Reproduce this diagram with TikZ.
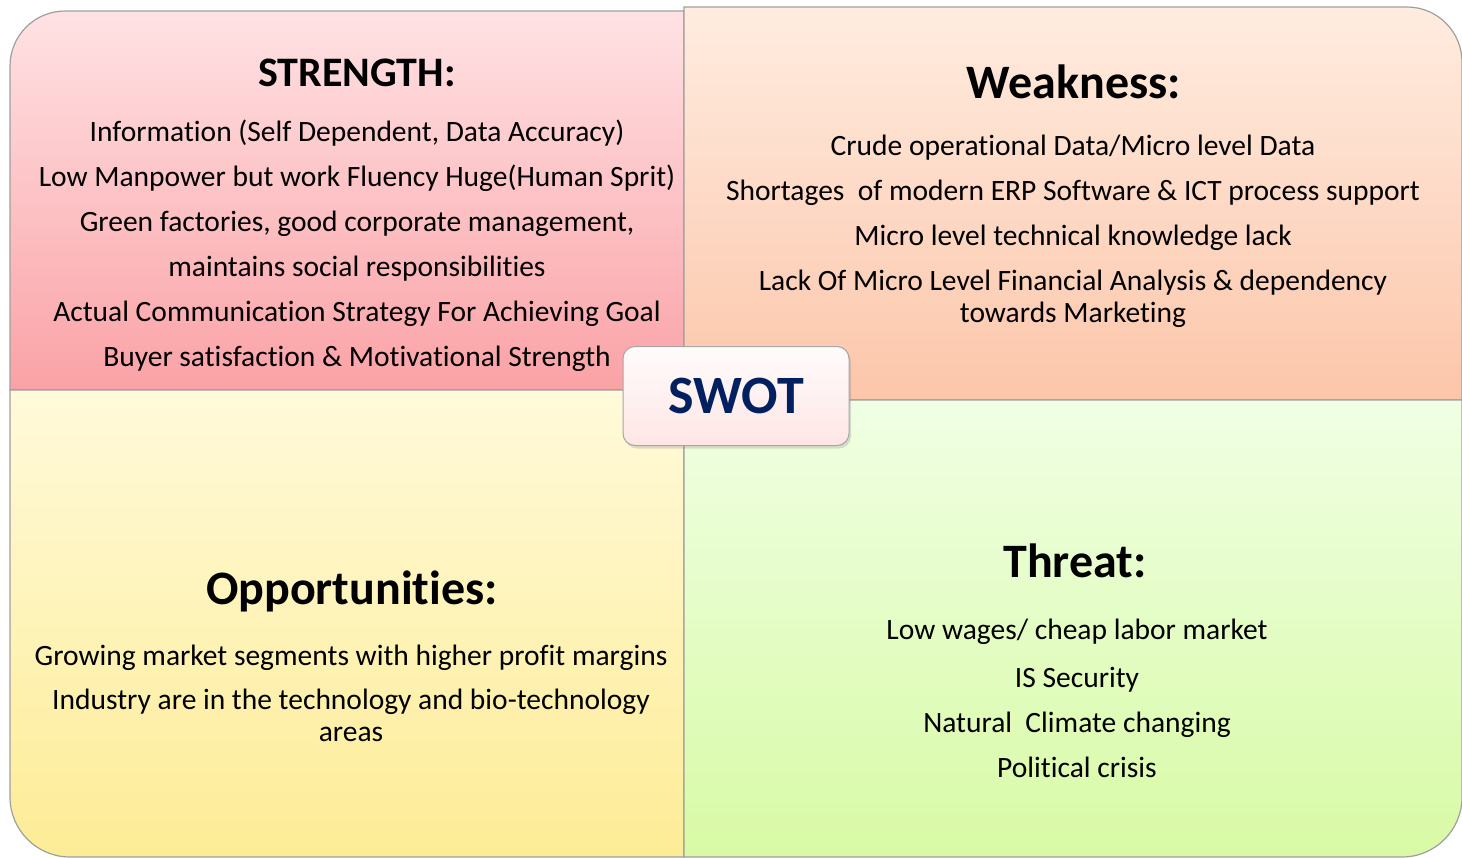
\documentclass[tikz,border=0pt]{standalone}
\usepackage{fontspec}
\setmainfont[RawFeature={-liga;-clig;-rlig;-calt}]{Carlito}
\usepackage{xcolor}
\usetikzlibrary{shadows}

\definecolor{strengthTop}{RGB}{255,226,228}
\definecolor{strengthBot}{RGB}{250,162,166}
\definecolor{weakTop}{RGB}{255,236,224}
\definecolor{weakBot}{RGB}{252,198,170}
\definecolor{oppTop}{RGB}{255,250,218}
\definecolor{oppBot}{RGB}{253,236,150}
\definecolor{threatTop}{RGB}{240,255,228}
\definecolor{threatBot}{RGB}{216,250,165}
\definecolor{swotBlue}{RGB}{0,32,96}

\begin{document}
\begin{tikzpicture}[x=1pt,y=-1pt]
\tikzstyle{quad} = [draw=gray!75, line width=1.2pt]
\tikzstyle{heading} = [font=\fontsize{48}{54}\selectfont\bfseries, anchor=base, inner sep=0pt]
\tikzstyle{bodytext} = [font=\fontsize{29.5}{32}\selectfont, align=center, anchor=base, inner sep=0pt]
\tikzstyle{swotbox} = [rectangle, rounded corners=12pt, minimum width=226pt, minimum height=99pt, draw=gray!70, line width=1pt, top color=white!95!pink, bottom color=red!10, drop shadow={opacity=0.25, shadow xshift=2pt, shadow yshift=-3pt}, text=swotBlue, font=\fontsize{54}{60}\selectfont\bfseries]

\useasboundingbox (0,0) rectangle (1462,857);

% quadrants
\path[quad, top color=strengthTop, bottom color=strengthBot] (347,11) [rounded corners=55pt] -- (10,11) -- (10,200) [sharp corners] -- (10,390) -- (684,390) -- (684,11) -- cycle;
\path[quad, top color=weakTop, bottom color=weakBot] (1073,7) [rounded corners=55pt] -- (1462,7) -- (1462,200) [sharp corners] -- (1462,400) -- (684,400) -- (684,7) -- cycle;
\path[quad, top color=oppTop, bottom color=oppBot] (10,600) [rounded corners=60pt] -- (10,857) -- (347,857) [sharp corners] -- (684,857) -- (684,390) -- (10,390) -- cycle;
\path[quad, top color=threatTop, bottom color=threatBot] (1462,600) [rounded corners=60pt] -- (1462,857) -- (1073,857) [sharp corners] -- (684,857) -- (684,400) -- (1462,400) -- cycle;

% headings
\node (strengthHead) [heading, font=\fontsize{42}{48}\selectfont\bfseries] at (357,86) {STRENGTH:};
\node (weakHead) [heading] at (1074,98) {Weakness:};
\node (oppHead) [heading] at (352,604) {Opportunities:};
\node (threatHead) [heading] at (1075,577) {Threat:};

% contents (base = last line)
\node (strengthText) [bodytext] at (357,366) {Information (Self Dependent, Data Accuracy)\\[13pt]
Low Manpower but work Fluency Huge(Human Sprit)\\[13pt]
Green factories, good corporate management,\\[13pt]
maintains social responsibilities\\[13pt]
Actual Communication Strategy For Achieving Goal\\[13pt]
Buyer satisfaction \& Motivational Strength};

\node (weakText) [bodytext] at (1073,322) {Crude operational Data/Micro level Data\\[13pt]
Shortages\ \ of modern ERP Software \& ICT process support\\[13pt]
Micro level technical knowledge lack\\[13pt]
Lack Of Micro Level Financial Analysis \& dependency\\
towards Marketing};

\node (oppText) [bodytext] at (351,741) {Growing market segments with higher profit margins\\[12pt]
Industry are in the technology and bio-technology\\
areas};

\node (threatText) [bodytext] at (1077,777) {Low wages/ cheap labor market\\[16pt]
IS Security\\[13pt]
Natural\ \ Climate changing\\[13pt]
Political crisis};

% centre
\node (swot) [swotbox] at (736,396) {SWOT};

\end{tikzpicture}
\end{document}
